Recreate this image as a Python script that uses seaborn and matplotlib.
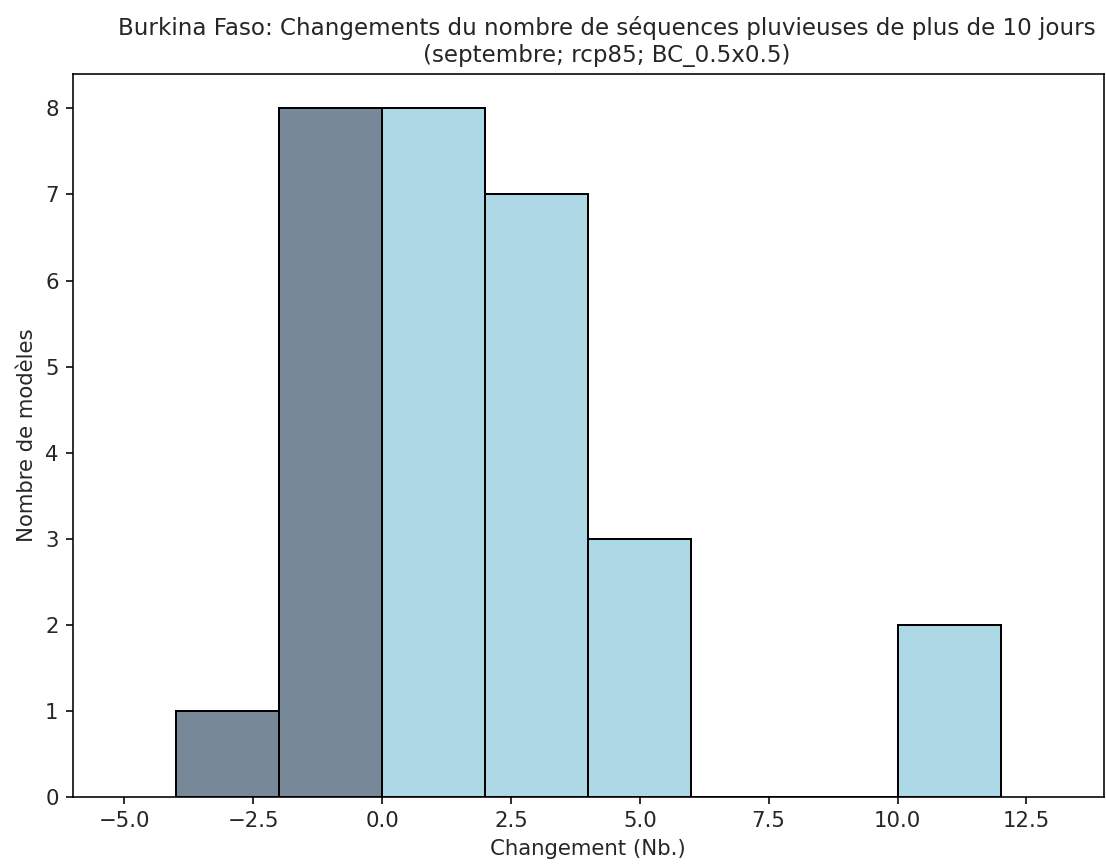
import numpy as np
import pandas as pd
import matplotlib
matplotlib.use("Agg")
import matplotlib.pyplot as plt
import seaborn as sns

# Histogramme des changements (nombre de modèles par classe de 2)
bornes = [-4, -2, 0, 2, 4, 6, 8, 10, 12]
nb_modeles = [1, 8, 8, 7, 3, 0, 0, 2]
couleurs = {"negatif": "#778899", "positif": "#ADD8E6"}

titre = ("Burkina Faso: Changements du nombre de séquences pluvieuses de plus de 10 jours\n"
         "(septembre; rcp85; BC_0.5x0.5)")

centres = [(a + b) / 2 for a, b in zip(bornes[:-1], bornes[1:])]
df = pd.DataFrame({
    "changement": centres,
    "nb": nb_modeles,
    "signe": ["negatif" if c < 0 else "positif" for c in centres],
})

plt.rcParams["font.family"] = ["DejaVu Sans"]
plt.rcParams["font.size"] = 10.6
plt.rcParams["text.color"] = "#262626"
plt.rcParams["axes.labelcolor"] = "#262626"
plt.rcParams["xtick.labelcolor"] = "#262626"
plt.rcParams["ytick.labelcolor"] = "#262626"

fig = plt.figure(figsize=(1106 / 144, 865 / 144), dpi=144)
ax = fig.add_axes([0.0657, 0.0786, 0.9323, 0.8359])

sns.histplot(data=df, x="changement", weights="nb", bins=bornes, hue="signe",
             palette=couleurs, alpha=1, edgecolor="black", linewidth=1,
             legend=False, ax=ax)

ax.set_xlim(-6, 14)
ax.set_xticks(np.arange(-5, 13, 2.5))
ax.set_xlabel("Changement (Nb.)")
ax.set_ylabel("Nombre de modèles")
ax.set_title(titre, fontsize=11.5, x=0.518)

fig.savefig("out.png", dpi=144)
